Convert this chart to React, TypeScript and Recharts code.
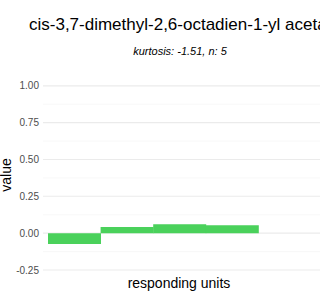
import React from 'react';
import { BarChart, Bar, XAxis, YAxis, CartesianGrid, Label } from 'recharts';

// values
const units = ['1', '2', '3', '4', '5'];
const values = [-0.073, 0.041, 0.061, 0.054, 0.0];
const yTicks = [-0.25, 0, 0.25, 0.5, 0.75, 1];
const minorTicks = [-0.125, 0.125, 0.375, 0.625, 0.875];

const data = units.map((unit, i) => ({ unit, value: values[i] }));

const FONT = '"Liberation Sans", Arial, sans-serif';

const App = () => {
  return (
    <div style={{ position: 'absolute', left: 0, top: 0, width: 320, height: 300, background: '#fff', overflow: 'hidden' }}>
      <svg width={320} height={60} style={{ position: 'absolute', left: 0, top: 0 }}>
        <text x={29} y={30} fontFamily={FONT} fontSize={17} fill="#000">
          cis-3,7-dimethyl-2,6-octadien-1-yl acetate
        </text>
        <text x={180} y={54.5} fontFamily={FONT} fontSize={11} fontStyle="italic" textAnchor="middle" fill="#000">
          kurtosis: -1.51, n: 5
        </text>
      </svg>
      <BarChart
        width={320}
        height={300}
        data={data}
        margin={{ top: 77, right: 0, left: 0, bottom: 0 }}
        barCategoryGap={0}
        style={{ position: 'absolute', left: 0, top: 0 }}
      >
        <CartesianGrid vertical={false} horizontalValues={minorTicks} stroke="#f4f4f4" strokeWidth={0.6} />
        <CartesianGrid vertical={false} horizontalValues={yTicks} stroke="#ebebeb" strokeWidth={1.1} />
        <XAxis
          dataKey="unit"
          tick={false}
          tickLine={false}
          axisLine={false}
          height={25.6}
          padding={{ left: 5, right: 9 }}
        >
          <Label
            content={() => (
              <text x={179} y={288} fontFamily={FONT} fontSize={14} textAnchor="middle" fill="#000">
                responding units
              </text>
            )}
          />
        </XAxis>
        <YAxis
          type="number"
          domain={[-0.28, 1.06]}
          ticks={yTicks}
          tickFormatter={(v: number) => v.toFixed(2)}
          width={43}
          tickLine={false}
          axisLine={false}
          tickSize={4}
          tickMargin={0}
          tick={{ fontFamily: FONT, fontSize: 10, fill: '#4d4d4d' }}
        >
          <Label
            content={() => (
              <text
                x={11}
                y={175}
                transform="rotate(-90 11 175)"
                fontFamily={FONT}
                fontSize={14}
                textAnchor="middle"
                fill="#000"
              >
                value
              </text>
            )}
          />
        </YAxis>
        <Bar dataKey="value" fill="#4ad15b" isAnimationActive={false} />
      </BarChart>
    </div>
  );
};

export default App;
